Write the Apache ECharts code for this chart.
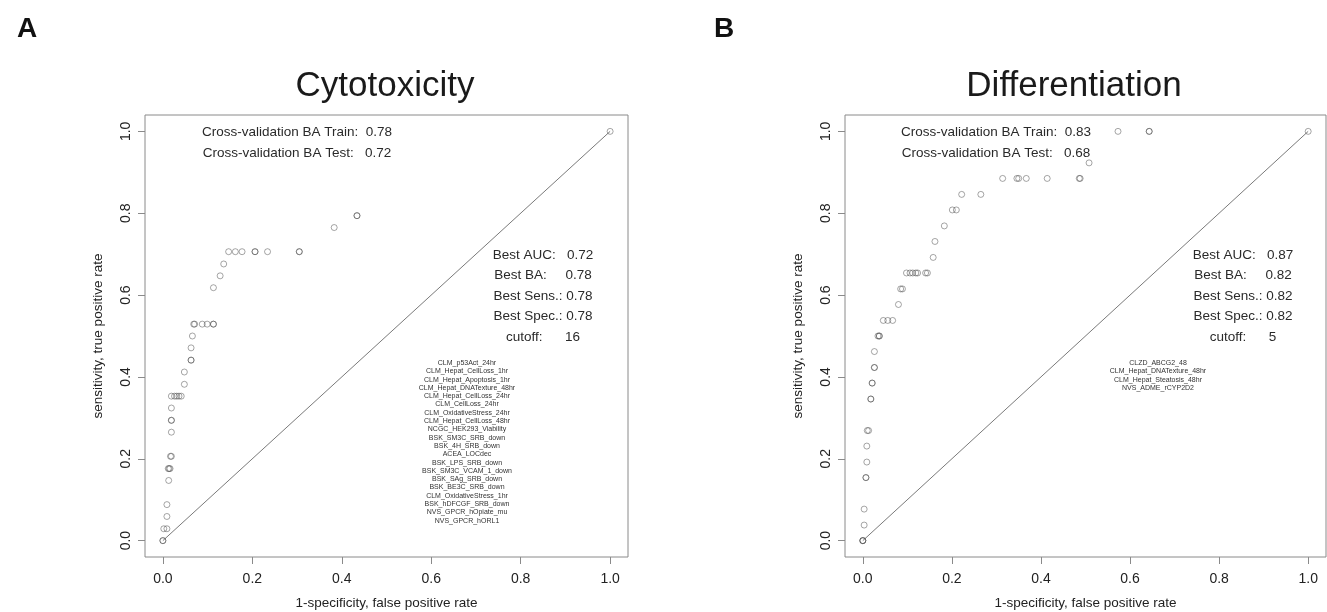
<!DOCTYPE html>
<html>
<head>
<meta charset="utf-8">
<script src="https://cdn.jsdelivr.net/npm/echarts@6/dist/echarts.min.js"></script>
<style>
  html, body { margin: 0; padding: 0; background: #fff; }
  #main { width: 1327px; height: 612px; }
</style>
</head>
<body>
<div id="main"></div>
<script>
// panel A: cytotoxicity ROC points (1-spec, sens); repeated pairs are overlapping points
var cytoFpr = [0, 0, 0.002, 0.009, 0.009, 0.009, 0.013, 0.012, 0.014, 0.016, 0.017, 0.019,
  0.019, 0.019, 0.019, 0.019, 0.019, 0.026, 0.031, 0.036, 0.041, 0.048, 0.048, 0.063, 0.063,
  0.063, 0.066, 0.069, 0.071, 0.088, 0.099, 0.113, 0.113, 0.113, 0.128, 0.136, 0.147, 0.162,
  0.177, 0.206, 0.206, 0.234, 0.305, 0.305, 0.383, 0.434, 0.434, 1];
var cytoTpr = [0, 0, 0.029, 0.029, 0.059, 0.088, 0.147, 0.176, 0.176, 0.176, 0.206, 0.206,
  0.265, 0.294, 0.294, 0.324, 0.353, 0.353, 0.353, 0.353, 0.353, 0.382, 0.412, 0.441, 0.441,
  0.471, 0.5, 0.529, 0.529, 0.529, 0.529, 0.529, 0.529, 0.618, 0.647, 0.676, 0.706, 0.706,
  0.706, 0.706, 0.706, 0.706, 0.706, 0.706, 0.765, 0.794, 0.794, 1];

// panel B: differentiation ROC points
var diffFpr = [0, 0, 0, 0.003, 0.003, 0.007, 0.007, 0.009, 0.009, 0.010, 0.013, 0.018, 0.018,
  0.021, 0.021, 0.026, 0.026, 0.026, 0.034, 0.037, 0.037, 0.046, 0.056, 0.067, 0.080, 0.085,
  0.089, 0.098, 0.106, 0.112, 0.119, 0.123, 0.141, 0.145, 0.158, 0.162, 0.183, 0.201, 0.210,
  0.222, 0.265, 0.314, 0.346, 0.350, 0.367, 0.414, 0.486, 0.488, 0.508, 0.573, 0.643, 0.643, 1];
var diffTpr = [0, 0, 0, 0.038, 0.077, 0.154, 0.154, 0.192, 0.231, 0.269, 0.269, 0.346, 0.346,
  0.385, 0.385, 0.423, 0.423, 0.462, 0.5, 0.5, 0.5, 0.538, 0.538, 0.538, 0.577, 0.615,
  0.615, 0.654, 0.654, 0.654, 0.654, 0.654, 0.654, 0.654, 0.692, 0.731, 0.769, 0.808, 0.808,
  0.846, 0.846, 0.885, 0.885, 0.885, 0.885, 0.885, 0.885, 0.885, 0.923, 1, 1, 1, 1];

var diagonal = [[0, 0], [1, 1]];
var tickValues = [0, 0.2, 0.4, 0.6, 0.8, 1];

var panelTitles = ['Cytotoxicity', 'Differentiation'];
var panelLetters = ['A', 'B'];
var cvLabels = ['Cross-validation BA Train:', 'Cross-validation BA Test: '];
var cvValues = [['0.78', '0.72'], ['0.83', '0.68']];
var statLabels = ['Best AUC:  ', 'Best BA:    ', 'Best Sens.:', 'Best Spec.:', 'cutoff:     '];
var statValues = [['0.72', '0.78', '0.78', '0.78', '16'], ['0.87', '0.82', '0.82', '0.82', '5']];
var cytoAssays = ['CLM_p53Act_24hr', 'CLM_Hepat_CellLoss_1hr', 'CLM_Hepat_Apoptosis_1hr',
  'CLM_Hepat_DNATexture_48hr', 'CLM_Hepat_CellLoss_24hr', 'CLM_CellLoss_24hr',
  'CLM_OxidativeStress_24hr', 'CLM_Hepat_CellLoss_48hr', 'NCGC_HEK293_Viability',
  'BSK_SM3C_SRB_down', 'BSK_4H_SRB_down', 'ACEA_LOCdec', 'BSK_LPS_SRB_down',
  'BSK_SM3C_VCAM_1_down', 'BSK_SAg_SRB_down', 'BSK_BE3C_SRB_down', 'CLM_OxidativeStress_1hr',
  'BSK_hDFCGF_SRB_down', 'NVS_GPCR_hOpiate_mu', 'NVS_GPCR_hORL1'];
var diffAssays = ['CLZD_ABCG2_48', 'CLM_Hepat_DNATexture_48hr', 'CLM_Hepat_Steatosis_48hr',
  'NVS_ADME_rCYP2D2'];

var FONT = '"Liberation Sans", Arial, Helvetica, sans-serif';
var boxColor = '#8a8a8a';

function pairs(xs, ys) {
  var out = [];
  for (var i = 0; i < xs.length; i++) out.push([xs[i], ys[i]]);
  return out;
}

var grids = [
  { left: 145, top: 115, width: 483, height: 442 },
  { left: 845, top: 115, width: 481, height: 442 }
];

function makeAxis(kind, idx) {
  var isX = kind === 'x';
  return {
    type: 'value',
    gridIndex: idx,
    min: -0.04,
    max: 1.04,
    name: isX ? '1-specificity, false positive rate' : 'sensitivity, true positive rate',
    nameLocation: 'middle',
    nameGap: isX ? 39 : 40,
    nameRotate: isX ? 0 : 90,
    nameTextStyle: { fontFamily: FONT, fontSize: 13.5, color: '#222' },
    axisLine: { show: false, onZero: false },
    splitLine: { show: false },
    axisTick: { show: true, inside: false, length: 7, customValues: tickValues,
      lineStyle: { color: boxColor, width: 1 } },
    axisLabel: {
      customValues: tickValues,
      rotate: isX ? 0 : 90,
      margin: isX ? 15 : 12,
      fontFamily: FONT, fontSize: 14, color: '#222',
      formatter: function (v) { return v.toFixed(1); }
    }
  };
}

var series = [];
[[cytoFpr, cytoTpr], [diffFpr, diffTpr]].forEach(function (d, i) {
  series.push({
    type: 'line', xAxisIndex: i, yAxisIndex: i, data: diagonal, symbol: 'none',
    silent: true, lineStyle: { color: '#7a7a7a', width: 1 }, z: 1
  });
  series.push({
    type: 'scatter', xAxisIndex: i, yAxisIndex: i, data: pairs(d[0], d[1]),
    symbol: 'circle', symbolSize: 6, silent: true, z: 2,
    itemStyle: { color: 'rgba(0,0,0,0)', borderColor: 'rgba(70,70,70,0.6)', borderWidth: 1 }
  });
});

var graphics = [];
var centers = [
  { title: 385, letter: 27, cv: 297, stat: 543, assays: 467 },
  { title: 1074, letter: 724, cv: 996, stat: 1243, assays: 1158 }
];
var assayLists = [cytoAssays, diffAssays];
centers.forEach(function (c, i) {
  graphics.push({ type: 'text', style: { text: panelLetters[i], x: c.letter, y: 29,
    textAlign: 'center', textVerticalAlign: 'middle', align: 'center', verticalAlign: 'middle',
    font: 'bold 28px ' + FONT, fill: '#111' } });
  graphics.push({ type: 'text', style: { text: panelTitles[i], x: c.title, y: 86,
    textAlign: 'center', textVerticalAlign: 'middle', align: 'center', verticalAlign: 'middle',
    font: '35px ' + FONT, fill: '#1a1a1a' } });
  cvLabels.forEach(function (lab, k) {
    graphics.push({ type: 'text', style: { text: lab + '  ' + cvValues[i][k], x: c.cv, y: 132 + k * 21.5,
      textAlign: 'center', textVerticalAlign: 'middle', align: 'center', verticalAlign: 'middle',
      font: '13.5px ' + FONT, fill: '#2a2a2a' } });
  });
  statLabels.forEach(function (lab, k) {
    graphics.push({ type: 'text', style: { text: lab + ' ' + statValues[i][k], x: c.stat, y: 255 + k * 20.5,
      textAlign: 'center', textVerticalAlign: 'middle', align: 'center', verticalAlign: 'middle',
      font: '13.5px ' + FONT, fill: '#2a2a2a' } });
  });
  assayLists[i].forEach(function (name, k) {
    graphics.push({ type: 'text', style: { text: name, x: c.assays, y: 363 + k * 8.3,
      textAlign: 'center', textVerticalAlign: 'middle', align: 'center', verticalAlign: 'middle',
      font: '7px ' + FONT, fill: '#333' } });
  });
});

var chart = echarts.init(document.getElementById('main'), null, { renderer: 'canvas' });
chart.setOption({
  animation: false,
  backgroundColor: '#fff',
  grid: grids.map(function (g) {
    return Object.assign({ show: true, borderColor: boxColor, borderWidth: 1,
      backgroundColor: 'transparent', containLabel: false, outerBoundsMode: 'none' }, g);
  }),
  xAxis: [makeAxis('x', 0), makeAxis('x', 1)],
  yAxis: [makeAxis('y', 0), makeAxis('y', 1)],
  series: series,
  graphic: graphics
});
window.addEventListener('resize', function () { chart.resize(); });
</script>
</body>
</html>
